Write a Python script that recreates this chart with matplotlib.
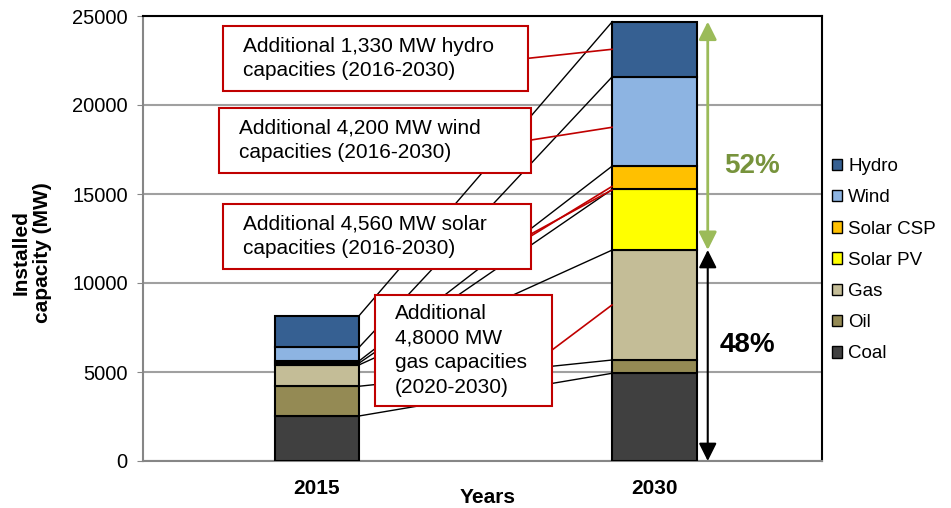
import numpy as np
import matplotlib
matplotlib.use("Agg")
import matplotlib.pyplot as plt
from matplotlib.patches import Patch, Rectangle

plt.rcParams["font.family"] = ["Liberation Sans", "DejaVu Sans"]

years = ["2015", "2030"]
sources = ["Coal", "Oil", "Gas", "Solar PV", "Solar CSP", "Wind", "Hydro"]
coal = [2530, 4930]
oil = [1670, 745]
gas = [1200, 6180]
solar_pv = [100, 3410]
solar_csp = [120, 1310]
wind = [770, 5020]
hydro = [1775, 3090]
colors = ["#404040", "#948A54", "#C4BD97", "#FFFF00", "#FFC000", "#8DB4E2", "#366092"]

notes = [
    "Additional 1,330 MW hydro\ncapacities (2016-2030)",
    "Additional 4,200 MW wind\ncapacities (2016-2030)",
    "Additional 4,560 MW solar\ncapacities (2016-2030)",
    "Additional\n4,8000 MW\ngas capacities\n(2020-2030)",
]

series = [coal, oil, gas, solar_pv, solar_csp, wind, hydro]
x = np.arange(len(years))
w = 0.25

fig = plt.figure(figsize=(9.51, 5.08), dpi=100)
ax = fig.add_axes([143 / 951, 47 / 508, 679 / 951, 445 / 508])

bottom = np.zeros(len(years))
tops = []
for vals, c, name in zip(series, colors, sources):
    ax.bar(x, vals, w, bottom=bottom, color=c, edgecolor="black", linewidth=1.5, zorder=3, label=name)
    bottom = bottom + np.array(vals)
    tops.append(bottom.copy())

# series lines between the two bars
for t in tops:
    ax.plot([x[0] + w / 2, x[1] - w / 2], t, color="black", lw=1, zorder=2)

ax.set_xlim(-0.515, 1.496)
ax.set_ylim(0, 25000)
ax.set_yticks(np.arange(0, 25001, 5000))
ax.set_xticks(x)
ax.set_xticklabels(years, fontsize=15, fontweight="bold")
ax.tick_params(axis="x", length=0, pad=13)
ax.tick_params(axis="y", labelsize=14.5, length=4, color="#868686", pad=7)
ax.yaxis.grid(True, color="#A0A0A0", lw=1.5, zorder=0)
ax.set_axisbelow(True)
for s in ["top", "right"]:
    ax.spines[s].set_color("black")
    ax.spines[s].set_linewidth(1.5)
for s in ["left", "bottom"]:
    ax.spines[s].set_color("#868686")
    ax.spines[s].set_linewidth(1.5)

ax.set_ylabel("Installed\ncapacity (MW)", fontsize=15, fontweight="bold", va="center")
ax.yaxis.set_label_coords(-0.1635, 0.4685)
ax.set_xlabel("Years", fontsize=15, fontweight="bold", va="center")
ax.xaxis.set_label_coords(0.508, -0.081)

# annotation boxes (axes fraction)
boxes = [(0.118, 0.8315, 0.449, 0.146),
         (0.112, 0.647, 0.459, 0.146),
         (0.118, 0.4315, 0.453, 0.146),
         (0.3417, 0.1236, 0.2607, 0.2494)]
red = "#C00000"
for (bx, by, bw, bh), txt in zip(boxes, notes):
    ax.add_patch(Rectangle((bx, by), bw, bh, transform=ax.transAxes, facecolor="white",
                           edgecolor=red, lw=1.5, zorder=5))
    ax.text(bx + 20 / 679, by + bh / 2, txt, transform=ax.transAxes, fontsize=15,
            va="center", ha="left", zorder=6, linespacing=1.36)

red_lines = [((0.567, 0.9049), (0.6907, 0.9252)),
             ((0.5714, 0.7213), (0.6907, 0.7499)),
             ((0.5714, 0.5101), (0.6907, 0.609)),
             ((0.5714, 0.5056), (0.6907, 0.617)),
             ((0.6024, 0.2494), (0.6907, 0.3506))]
for (x0, y0), (x1, y1) in red_lines:
    ax.plot([x0, x1], [y0, y1], transform=ax.transAxes, color=red, lw=1.2, zorder=4)

# renewable / conventional share arrows
total = tops[-1][1]
conv = tops[2][1]
xa = 1.1576
green = "#9BBB59"
ax.annotate("", xy=(xa, total), xytext=(xa, conv),
            arrowprops=dict(arrowstyle="<|-|>,head_length=0.6,head_width=0.3", color=green,
                            lw=2, mutation_scale=18, shrinkA=0, shrinkB=0), zorder=6)
ax.annotate("", xy=(xa, conv), xytext=(xa, 0),
            arrowprops=dict(arrowstyle="<|-|>,head_length=0.6,head_width=0.3", color="black",
                            lw=1.5, mutation_scale=18, shrinkA=0, shrinkB=0), zorder=6)
ax.text(1.289, 16573, "52%", color="#77933C", fontsize=20, fontweight="bold", ha="center", va="center")
ax.text(1.274, 6500, "48%", color="black", fontsize=20, fontweight="bold", ha="center", va="center")

handles = [Patch(facecolor=c, edgecolor="black", label=n) for c, n in zip(colors, sources)][::-1]
fig.legend(handles=handles, loc="upper left", bbox_to_anchor=(832 / 951, 1 - 158 / 508),
           frameon=False, fontsize=13.5, handlelength=0.55, handleheight=0.55,
           handletextpad=0.32, labelspacing=0.76, borderpad=0, borderaxespad=0)

fig.savefig("out.png", dpi=100)
